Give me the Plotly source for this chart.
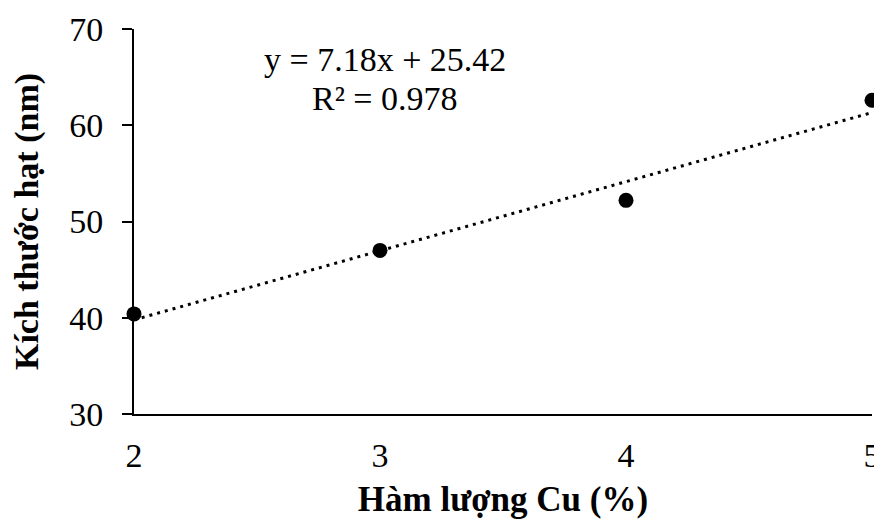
import numpy as np
import plotly.graph_objects as go

cu_percent = [2, 3, 4, 5]
particle_size = [40.4, 47.0, 52.2, 62.6]
y_ticks = [30, 40, 50, 60, 70]
x_ticks = [2, 3, 4, 5]

slope, intercept = np.polyfit(cu_percent, particle_size, 1)
pred = np.polyval([slope, intercept], cu_percent)
ss_res = float(np.sum((np.array(particle_size) - pred) ** 2))
ss_tot = float(np.sum((np.array(particle_size) - np.mean(particle_size)) ** 2))
r2 = 1 - ss_res / ss_tot

trend_x = [min(cu_percent), max(cu_percent)]
trend_y = [slope * v + intercept for v in trend_x]

FONT = "Liberation Serif, Times New Roman, serif"

fig = go.Figure()
fig.add_trace(go.Scatter(
    x=trend_x, y=trend_y, mode="lines",
    line=dict(color="black", width=3, dash="3px,5px"),
    hoverinfo="skip", showlegend=False, cliponaxis=False,
))
fig.add_trace(go.Scatter(
    x=cu_percent, y=particle_size, mode="markers",
    marker=dict(color="black", size=15),
    showlegend=False, cliponaxis=False,
))

fig.add_annotation(x=3.02, y=66.8, xref="x", yref="y",
                   text=f"y = {slope:.2f}x + {intercept:.2f}", showarrow=False,
                   font=dict(family=FONT, size=34, color="black"))
fig.add_annotation(x=3.02, y=62.8, xref="x", yref="y",
                   text=f"R² = {r2:.3f}", showarrow=False,
                   font=dict(family=FONT, size=34, color="black"))

# The page body adds an 8px offset, so margins are shifted to compensate.
fig.update_layout(
    width=882, height=524,
    margin=dict(l=126, r=18, t=21, b=118),
    paper_bgcolor="white", plot_bgcolor="white",
    font=dict(family=FONT, size=34, color="black"),
)
fig.update_xaxes(
    range=[2, 5], tickvals=x_ticks, ticks="", showgrid=False, zeroline=False,
    showline=True, linecolor="black", linewidth=2, automargin=False,
    ticklabelstandoff=10,
    tickfont=dict(family=FONT, size=34, color="black"),
    title=dict(text="<b>Hàm lượng Cu (%)</b>", standoff=14,
               font=dict(family=FONT, size=35, color="black")),
)
fig.update_yaxes(
    range=[30, 70], tickvals=y_ticks, ticks="outside", ticklen=10,
    tickwidth=2, tickcolor="black", showgrid=False, zeroline=False,
    showline=True, linecolor="black", linewidth=2, automargin=False,
    ticklabelstandoff=12,
    tickfont=dict(family=FONT, size=34, color="black"),
    title=dict(text="<b>Kích thước hạt (nm)</b>", standoff=53,
               font=dict(family=FONT, size=34, color="black")),
)

fig.write_html("out.html")
